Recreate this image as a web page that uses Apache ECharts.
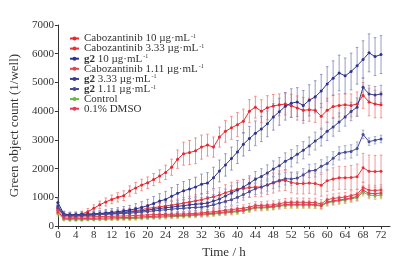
<!doctype html>
<html>
<head>
<meta charset="utf-8">
<title>Green object count</title>
<style>html,body{margin:0;padding:0;background:#fff}#main{width:399px;height:264px}</style>
</head>
<body>
<div id="main"></div>
<script src="https://cdn.jsdelivr.net/npm/echarts@6/dist/echarts.min.js"></script>
<script>
// scan times (h)
var hours = [0,1.33,2.67,4,5.33,6.67,8,9.33,10.67,12,13.33,14.67,16,17.33,18.67,20,21.33,22.67,24,25.33,26.67,28,29.33,30.67,32,33.33,34.67,36,37.33,38.67,40,41.33,42.67,44,45.33,46.67,48,49.33,50.67,52,53.33,54.67,56,57.33,58.67,60,61.33,62.67,64,65.33,66.67,68,69.33,70.67,72];
var xTicks = [0,4,8,12,16,20,24,28,32,36,40,44,48,52,56,60,64,68,72];

var cabo10 = [620,400,380,390,420,500,620,740,840,930, 1000,1060,1220,1330,1430,1510,1620,1740,1870,2050, 2330,2520,2560,2620,2750,2820,2750,3100,3300,3420, 3530,3650,4000,4140,4000,4120,4180,4220,4250,4190, 4110,4030,4050,4030,3820,4030,4160,4200,4220,4200, 4250,4550,4320,4250,4220];
var cabo10Err = [150,100,90,90,100,110,120,130,140,150, 160,170,180,190,200,200,210,220,250,280, 320,400,420,450,420,380,350,350,380,400, 420,420,400,380,400,420,400,380,380,400, 420,450,400,420,450,420,400,400,380,400, 420,450,480,480,450];

var cabo333 = [600,380,350,350,360,370,390,410,430,450, 470,490,510,540,570,620,640,670,700,730, 760,800,840,880,920,970,1020,1080,1160,1230, 1280,1310,1340,1360,1360,1440,1500,1570,1590,1520, 1480,1480,1500,1480,1420,1580,1640,1680,1680,1690, 1720,2030,1910,1900,1910];
var cabo333Err = [120,80,70,70,70,70,80,80,90,90, 100,100,110,110,120,130,140,150,160,170, 180,190,200,210,220,230,240,260,280,300, 310,320,330,330,340,340,350,350,350,360, 360,360,360,370,380,380,390,400,400,420, 440,500,560,560,560];

var g2a = [820,420,400,400,410,420,430,440,460,480, 500,530,560,600,650,710,790,870,930,1040, 1140,1230,1290,1360,1460,1500,1680,1920,2130,2350, 2580,2850,3050,3230,3380,3560,3800,3980,4170,4280, 4320,4200,4380,4500,4700,4950,5150,5330,5230,5380, 5580,5800,6030,5900,5970];
var g2aErr = [150,100,90,90,90,100,100,110,120,130, 140,150,160,180,200,220,240,260,280,300, 310,320,330,340,350,360,370,380,390,400, 400,410,420,430,440,450,460,470,480,500, 500,520,540,560,580,600,600,620,620,640, 640,650,660,660,660];

var cabo111 = [550,330,310,310,320,320,330,330,340,340, 350,350,360,370,380,390,400,400,410,410, 420,420,430,440,460,480,500,520,550,570, 600,620,660,720,720,730,740,780,820,830, 830,830,820,820,770,920,960,990,1010,1060, 1110,1340,1250,1240,1260];
var cabo111Err = [100,60,50,50,50,50,60,60,60,60, 60,70,70,70,70,80,80,80,80,90, 90,90,90,100,100,100,110,110,110,120, 120,120,130,130,130,140,140,140,140,150, 150,150,150,150,150,160,160,160,160,170, 170,180,180,180,180];

var g2b = [700,400,380,380,390,400,410,420,430,440, 450,470,490,510,530,560,590,610,640,660, 690,710,740,760,780,800,870,940,1050,1150, 1260,1360,1490,1630,1730,1850,1990,2100,2260,2360, 2500,2640,2790,2960,3100,3300,3450,3620,3800,3990, 4140,4830,4600,4560,4600];
var g2bErr = [120,90,80,80,80,90,90,100,100,110, 110,120,130,140,150,160,170,180,190,200, 200,210,210,220,220,230,230,240,240,250, 250,260,260,270,270,280,280,290,290,300, 300,300,310,310,310,320,320,320,320,320, 320,330,300,300,300];

var g2c = [650,380,360,360,370,380,390,400,410,420, 430,440,450,470,490,510,530,550,570,590, 610,620,640,650,660,690,740,800,860,920, 1000,1100,1200,1300,1360,1430,1520,1590,1650,1640, 1670,1780,1920,1940,2080,2180,2360,2530,2570,2600, 2700,3190,2940,2990,3030];
var g2cErr = [110,80,70,70,70,70,80,80,80,90, 90,100,100,110,110,120,120,130,130,140, 140,150,150,160,160,170,170,180,180,190, 190,200,200,200,210,210,210,220,220,220, 220,220,230,230,230,230,230,230,230,230, 230,150,130,130,130];

var control = [450,240,220,220,220,230,230,240,240,250, 250,260,260,270,280,290,300,310,320,330, 340,350,360,370,390,400,420,440,460,480, 500,530,570,630,630,640,660,690,720,730, 730,730,730,720,700,810,850,880,910,950, 990,1180,1080,1060,1080];
var controlErr = [100,60,50,50,50,50,50,50,50,50, 50,60,60,60,60,60,60,70,70,70, 70,70,70,80,80,80,80,80,90,90, 90,90,90,100,100,100,100,100,100,110, 110,110,110,110,110,110,120,120,120,120, 120,130,130,130,130];

var dmso = [500,280,260,260,260,270,270,280,280,290, 290,300,300,310,320,330,340,350,360,360, 370,380,390,400,420,430,450,470,490,510, 530,560,600,660,660,670,690,720,750,760, 760,760,760,750,720,840,880,910,940,980, 1030,1250,1140,1130,1150];
var dmsoErr = [100,60,50,50,50,50,50,50,60,60, 60,60,60,60,70,70,70,70,70,80, 80,80,80,80,90,90,90,90,90,100, 100,100,100,110,110,110,110,120,120,120, 120,120,120,120,120,130,130,130,130,130, 140,150,150,150,150];

var font = '"Liberation Serif", "Times New Roman", serif';

var groups = [
    {name: 'Cabozantinib 10', label: '{n|Cabozantinib 10 µg·mL}{s|-1}', values: cabo10, errs: cabo10Err, color: '#e8262c', bar: '#f07878'},
    {name: 'Cabozantinib 3.33', label: '{n|Cabozantinib 3.33 µg·mL}{s|-1}', values: cabo333, errs: cabo333Err, color: '#e2343a', bar: '#ee8080'},
    {name: 'g2 10', label: '{b|g2}{n| 10 µg·mL}{s|-1}', values: g2a, errs: g2aErr, color: '#2e3190', bar: '#7f84b8'},
    {name: 'Cabozantinib 1.11', label: '{n|Cabozantinib 1.11 µg·mL}{s|-1}', values: cabo111, errs: cabo111Err, color: '#e0444a', bar: '#ef8a8a'},
    {name: 'g2 3.33', label: '{b|g2}{n| 3.33 µg·mL}{s|-1}', values: g2b, errs: g2bErr, color: '#373c8e', bar: '#8a8fbf'},
    {name: 'g2 1.11', label: '{b|g2}{n| 1.11 µg·mL}{s|-1}', values: g2c, errs: g2cErr, color: '#474c98', bar: '#9296c4'},
    {name: 'Control', label: '{n|Control}', values: control, errs: controlErr, color: '#6cb446', bar: '#cfc64a'},
    {name: '0.1% DMSO', label: '{n|0.1% DMSO}', values: dmso, errs: dmsoErr, color: '#e43a5c', bar: '#ee8a98'}
];

function errorBar(color) {
    return function (params, api) {
        var hi = api.coord([api.value(0), api.value(2)]);
        var lo = api.coord([api.value(0), api.value(1)]);
        var w = 1.3;
        var st = {stroke: color, lineWidth: 0.8};
        return {
            type: 'group',
            children: [
                {type: 'line', shape: {x1: hi[0], y1: hi[1], x2: lo[0], y2: lo[1]}, style: st},
                {type: 'line', shape: {x1: hi[0] - w, y1: hi[1], x2: hi[0] + w, y2: hi[1]}, style: st},
                {type: 'line', shape: {x1: lo[0] - w, y1: lo[1], x2: lo[0] + w, y2: lo[1]}, style: st}
            ]
        };
    };
}

var series = [];
var labelMap = {};
groups.forEach(function (g) {
    labelMap[g.name] = g.label;
    series.push({
        type: 'custom',
        renderItem: errorBar(g.bar),
        encode: {x: 0, y: [1, 2]},
        data: hours.map(function (t, i) { return [t, g.values[i] - g.errs[i], g.values[i] + g.errs[i]]; }),
        z: 1
    });
});
groups.forEach(function (g) {
    series.push({
        name: g.name,
        type: 'line',
        data: hours.map(function (t, i) { return [t, g.values[i]]; }),
        symbol: 'circle',
        symbolSize: 3,
        color: g.color,
        lineStyle: {width: 1, color: g.color},
        itemStyle: {color: g.color},
        z: 2
    });
});

var chart = echarts.init(document.getElementById('main'));
chart.setOption({
    animation: false,
    backgroundColor: '#fff',
    grid: {left: 54, right: 9, top: 25, bottom: 35},
    legend: {
        data: groups.map(function (g) { return g.name; }),
        orient: 'vertical',
        left: 64,
        top: 28,
        itemWidth: 9,
        itemHeight: 5,
        itemGap: -1.4,
        formatter: function (name) { return labelMap[name]; },
        textStyle: {
            fontFamily: font,
            fontSize: 11,
            color: '#333',
            lineHeight: 10,
            rich: {
                n: {fontFamily: font, fontSize: 11, color: '#333', lineHeight: 10},
                b: {fontFamily: font, fontSize: 11, color: '#333', fontWeight: 'bold', lineHeight: 10},
                s: {fontFamily: font, fontSize: 6, color: '#333', lineHeight: 10, verticalAlign: 'top', padding: [0, 0, 5, 1]}
            }
        }
    },
    xAxis: {
        type: 'value',
        min: 0,
        max: 74,
        name: 'Time / h',
        nameLocation: 'middle',
        nameGap: 19,
        nameTextStyle: {fontFamily: font, fontSize: 13, color: '#333'},
        axisLine: {lineStyle: {color: '#333', width: 1}},
        axisTick: {customValues: xTicks, length: 3, lineStyle: {color: '#333'}},
        minorTick: {show: true, splitNumber: 2, length: 2, lineStyle: {color: '#333'}},
        axisLabel: {customValues: xTicks, fontFamily: font, fontSize: 11, color: '#333', margin: 4},
        splitLine: {show: false}
    },
    yAxis: {
        type: 'value',
        min: 0,
        max: 7000,
        interval: 1000,
        name: 'Green object count (1/well)',
        nameLocation: 'middle',
        nameGap: 36,
        nameTextStyle: {fontFamily: font, fontSize: 13, color: '#333'},
        axisLine: {show: true, lineStyle: {color: '#333', width: 1}},
        axisTick: {show: true, length: 3, lineStyle: {color: '#333'}},
        axisLabel: {
            fontFamily: font, fontSize: 11, color: '#333', margin: 4,
            formatter: function (v) { return String(v); }
        },
        splitLine: {show: false}
    },
    series: series
});
</script>
</body>
</html>
